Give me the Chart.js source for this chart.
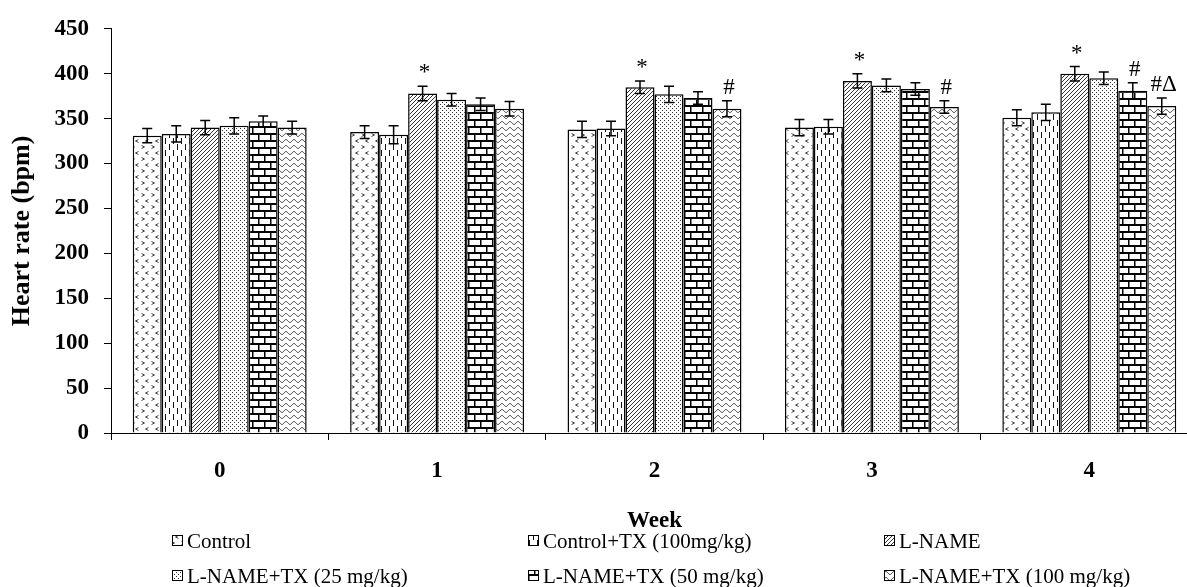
<!DOCTYPE html>
<html>
<head>
<meta charset="utf-8">
<script src="https://cdn.jsdelivr.net/npm/chart.js@4.4.1/dist/chart.umd.min.js"></script>
<style>
  html, body { margin: 0; padding: 0; background: #fff; overflow: hidden; }
  #wrap { position: relative; width: 1187px; height: 587px; overflow: hidden; }
  #myGraph { position: absolute; left: 0; top: 0; }
</style>
</head>
<body>
<div id="wrap">
  <canvas id="myGraph" width="1200" height="587"></canvas>
</div>
<script>
const weeks = ["0", "1", "2", "3", "4"];
const seriesNames = [
  "Control",
  "Control+TX (100mg/kg)",
  "L-NAME",
  "L-NAME+TX (25 mg/kg)",
  "L-NAME+TX (50 mg/kg)",
  "L-NAME+TX (100 mg/kg)",
];

const control = [331, 335, 338, 340, 351];
const controlTx = [333, 332, 339, 341, 357];
const lName = [340, 378, 385, 392, 400];
const lNameTx25 = [342, 371, 377, 387, 395];
const lNameTx50 = [347, 366, 373, 383, 381];
const lNameTx100 = [340, 361, 361, 363, 364];

const controlErr = [8, 7, 9, 9, 9];
const controlTxErr = [9, 10, 8, 8, 9];
const lNameErr = [8, 8, 7, 8, 8];
const lNameTx25Err = [9, 7, 9, 7, 7];
const lNameTx50Err = [6, 7, 7, 7, 9];
const lNameTx100Err = [7, 8, 9, 7, 9];

const controlMarks = ["", "", "", "", ""];
const controlTxMarks = ["", "", "", "", ""];
const lNameMarks = ["", "*", "*", "*", "*"];
const lNameTx25Marks = ["", "", "", "", ""];
const lNameTx50Marks = ["", "", "", "", "#"];
const lNameTx100Marks = ["", "", "#", "#", "#\u0394"];

const yTicks = [0, 50, 100, 150, 200, 250, 300, 350, 400, 450];

// pattern tiles
function tile(w, h, draw) {
  const c = document.createElement("canvas");
  c.width = w;
  c.height = h;
  const g = c.getContext("2d");
  g.fillStyle = "#fff";
  g.fillRect(0, 0, w, h);
  g.strokeStyle = "#222";
  g.fillStyle = "#222";
  g.lineWidth = 1;
  draw(g);
  return c;
}

const tiles = [
  // chevrons
  tile(10, 12, (g) => {
    g.strokeStyle = "#444";
    g.beginPath();
    g.moveTo(1.5, 1.5); g.lineTo(4.5, 3); g.lineTo(1.5, 4.5);
    g.stroke();
    g.beginPath();
    g.moveTo(8.5, 7.5); g.lineTo(5.5, 9); g.lineTo(8.5, 10.5);
    g.stroke();
  }),
  // vertical dashes
  tile(8, 12, (g) => {
    g.fillStyle = "#111";
    g.fillRect(1, 0, 1, 6);
    g.fillRect(5, 6, 1, 6);
  }),
  // diagonal hatching
  tile(4, 4, (g) => {
    g.strokeStyle = "#333";
    g.beginPath();
    g.moveTo(0, 4); g.lineTo(4, 0);
    g.moveTo(-1, 1); g.lineTo(1, -1);
    g.moveTo(3, 5); g.lineTo(5, 3);
    g.stroke();
  }),
  // dots
  tile(4, 4, (g) => {
    g.fillStyle = "#333";
    g.fillRect(0, 0, 1, 1);
    g.fillRect(2, 2, 1, 1);
  }),
  // bricks
  tile(12, 14, (g) => {
    g.fillStyle = "#000";
    g.fillRect(0, 0, 12, 2);
    g.fillRect(0, 7, 12, 2);
    g.fillRect(0, 0, 1.5, 7);
    g.fillRect(6, 7, 1.5, 7);
  }),
  // waves
  tile(8, 6, (g) => {
    g.strokeStyle = "#333";
    g.beginPath();
    for (let x = 0; x <= 8; x += 0.5) {
      const y = 3 + 1.5 * Math.sin((2 * Math.PI * x) / 8);
      if (x === 0) g.moveTo(x, y);
      else g.lineTo(x, y);
    }
    g.stroke();
  }),
];

const ctx = document.getElementById("myGraph");
const ctx2d = ctx.getContext("2d");
const patterns = tiles.map((t) => ctx2d.createPattern(t, "repeat"));

const values = [control, controlTx, lName, lNameTx25, lNameTx50, lNameTx100];
const errors = [controlErr, controlTxErr, lNameErr, lNameTx25Err, lNameTx50Err, lNameTx100Err];
const marks = [controlMarks, controlTxMarks, lNameMarks, lNameTx25Marks, lNameTx50Marks, lNameTx100Marks];

const errorBars = {
  id: "errorBars",
  afterDatasetsDraw(chart) {
    const c = chart.ctx;
    const y = chart.scales.y;
    c.save();
    c.strokeStyle = "#000";
    c.lineWidth = 1.5;
    c.fillStyle = "#000";
    c.font = "23px 'Liberation Serif'";
    c.textAlign = "center";
    c.textBaseline = "alphabetic";
    chart.data.datasets.forEach((ds, i) => {
      const meta = chart.getDatasetMeta(i);
      meta.data.forEach((bar, j) => {
        const v = ds.data[j];
        const e = errors[i][j];
        const top = y.getPixelForValue(v + e);
        const bot = y.getPixelForValue(v - e);
        c.beginPath();
        c.moveTo(bar.x, top);
        c.lineTo(bar.x, bot);
        c.moveTo(bar.x - 5, top);
        c.lineTo(bar.x + 5, top);
        c.moveTo(bar.x - 5, bot);
        c.lineTo(bar.x + 5, bot);
        c.stroke();
        if (marks[i][j]) c.fillText(marks[i][j], bar.x + 2, top - 7);
      });
    });
    c.restore();
  },
};

// legend in 3 columns x 2 rows under the axis
const legCols = [172, 528, 884];
const legRows = [541, 576];
const gridLegend = {
  id: "gridLegend",
  afterDraw(chart) {
    const c = chart.ctx;
    c.save();
    c.font = "21px 'Liberation Serif'";
    c.textAlign = "left";
    c.textBaseline = "middle";
    chart.data.datasets.forEach((ds, i) => {
      const x = legCols[i % 3];
      const y = legRows[Math.floor(i / 3)];
      c.fillStyle = ds.backgroundColor;
      c.fillRect(x, y - 6, 11, 11);
      c.strokeStyle = "#000";
      c.lineWidth = 1;
      c.strokeRect(x + 0.5, y - 5.5, 10, 10);
      c.fillStyle = "#000";
      c.fillText(ds.label, x + 15, y + 1);
    });
    c.restore();
  },
};

new Chart(ctx, {
  type: "bar",
  data: {
    labels: weeks,
    datasets: values.map((d, i) => ({
      label: seriesNames[i],
      data: d,
      backgroundColor: patterns[i],
      borderColor: "#000",
      borderWidth: 1.5,
      categoryPercentage: 0.8,
      barPercentage: 1,
    })),
  },
  options: {
    responsive: false,
    animation: false,
    layout: { padding: { top: 17, right: 2, left: 0, bottom: 47 } },
    plugins: {
      legend: { display: false },
      tooltip: { enabled: false },
    },
    scales: {
      y: {
        min: 0,
        max: 450,
        afterBuildTicks: (scale) => {
          scale.ticks = yTicks.map((v) => ({ value: v }));
        },
        afterFit: (scale) => {
          scale.width = 111;
        },
        grid: { drawOnChartArea: false, tickLength: 7, color: "#000" },
        border: { color: "#000", width: 1 },
        ticks: {
          color: "#000",
          padding: 15,
          font: { family: "Liberation Serif", size: 23, weight: "bold" },
        },
        title: {
          display: true,
          text: "Heart rate (bpm)",
          color: "#000",
          padding: { top: 7, bottom: 0 },
          font: { family: "Liberation Serif", size: 26, weight: "bold" },
        },
      },
      x: {
        afterFit: (scale) => {
          scale.height = 107;
        },
        grid: { drawOnChartArea: false, tickLength: 7, color: "#000", offset: true },
        border: { color: "#000", width: 1 },
        ticks: {
          color: "#000",
          padding: 17,
          font: { family: "Liberation Serif", size: 23, weight: "bold" },
        },
        title: {
          display: true,
          text: "Week",
          color: "#000",
          padding: { top: 0, bottom: 5 },
          font: { family: "Liberation Serif", size: 23, weight: "bold" },
        },
      },
    },
  },
  plugins: [errorBars, gridLegend],
});
</script>
</body>
</html>
